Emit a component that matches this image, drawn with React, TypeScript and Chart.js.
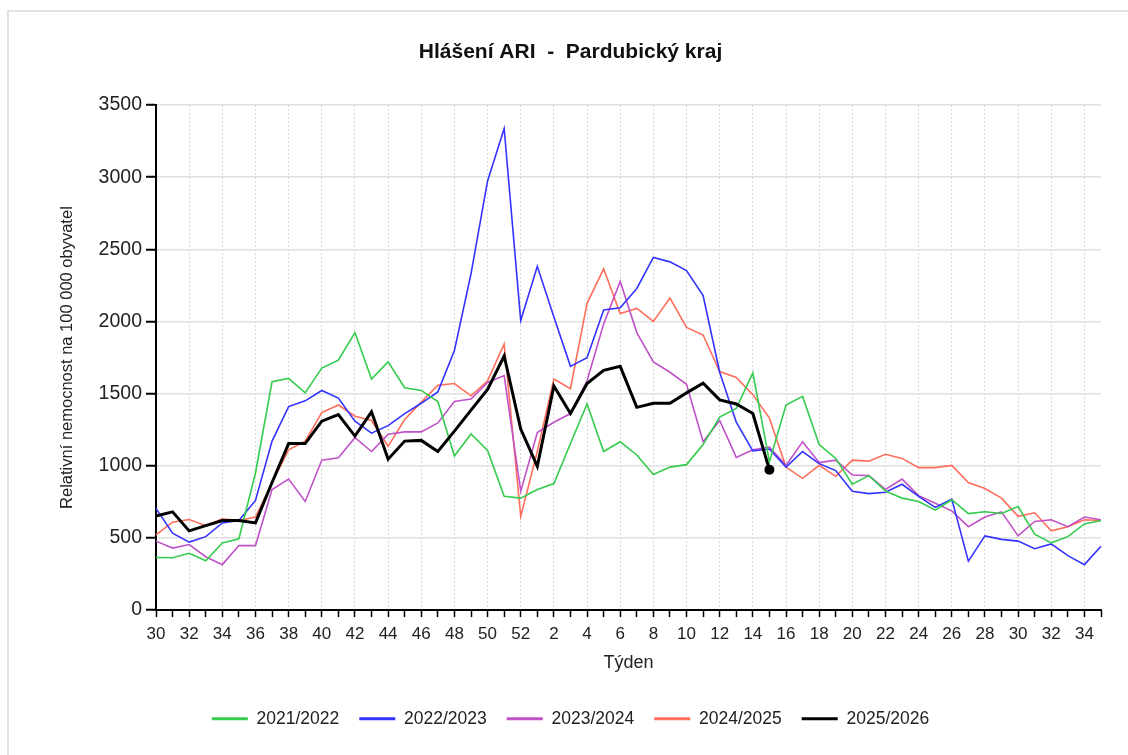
import React, { useEffect, useRef } from "react";
import { Chart, registerables } from "chart.js";

Chart.register(...registerables);

const weeks = [
  30, 31, 32, 33, 34, 35, 36, 37, 38, 39, 40, 41, 42, 43, 44, 45, 46, 47, 48, 49, 50, 51, 52,
  1, 2, 3, 4, 5, 6, 7, 8, 9, 10, 11, 12, 13, 14, 15, 16, 17, 18, 19, 20, 21, 22, 23, 24, 25, 26, 27, 28, 29, 30, 31, 32, 33, 34, 35,
];

const s2021 = [
  365, 363, 394, 342, 466, 494, 950, 1582, 1605, 1505, 1677, 1732, 1923, 1601, 1720, 1541, 1522, 1445, 1068, 1220, 1106, 788, 776,
  836, 877, 1154, 1428, 1099, 1166, 1075, 939, 991, 1008, 1147, 1338, 1397, 1644, 1027, 1421, 1481, 1147, 1051, 872, 932, 824, 776, 753, 693, 765, 669, 681, 669, 717, 526, 466, 509, 597, 621,
];

const s2022 = [
  705, 533, 471, 509, 604, 621, 760, 1171, 1410, 1450, 1522, 1469, 1309, 1226, 1278, 1362, 1433, 1512, 1799, 2330, 2974, 3337, 2007,
  2382, 2031, 1689, 1749, 2079, 2095, 2229, 2444, 2413, 2353, 2179, 1648, 1302, 1104, 1116, 991, 1099, 1015, 967, 824, 807, 817, 872, 788, 712, 769, 339, 514, 490, 478, 425, 459, 377, 315, 442,
];

const s2023 = [
  478, 430, 454, 370, 315, 447, 447, 836, 908, 753, 1039, 1056, 1195, 1099, 1218, 1235, 1235, 1297, 1445, 1462, 1577, 1625, 824,
  1230, 1302, 1362, 1589, 1983, 2277, 1923, 1720, 1648, 1565, 1166, 1314, 1058, 1111, 1130, 1003, 1166, 1022, 1039, 936, 932, 836, 908, 793, 741, 688, 578, 645, 681, 514, 614, 626, 578, 645, 626,
];

const s2024 = [
  521, 609, 628, 585, 633, 621, 645, 884, 1111, 1171, 1369, 1421, 1343, 1314, 1135, 1321, 1441, 1558, 1570, 1485, 1589, 1844, 650,
  1100, 1601, 1534, 2126, 2365, 2055, 2090, 2000, 2162, 1959, 1906, 1653, 1612, 1493, 1330, 991, 913, 1003, 927, 1039, 1032, 1080, 1051, 987, 987, 1003, 884, 843, 776, 650, 674, 549, 578, 626, 621,
];

const s2025 = [
  652, 681, 549, 585, 621, 621, 604, 884, 1154, 1154, 1309, 1355, 1206, 1374, 1046, 1171, 1176, 1099, 1240, 1386, 1529, 1761, 1254,
  996, 1553, 1362, 1570, 1661, 1689, 1405, 1433, 1433, 1505, 1572, 1457, 1428, 1362, 972,
  null, null, null, null, null, null, null, null, null, null, null, null, null, null, null, null, null, null, null, null,
];

const seasonLabels = ["2021/2022", "2022/2023", "2023/2024", "2024/2025", "2025/2026"];
const seasonColors = ["#33cc4d", "#3333ff", "#c052c8", "#ff6e5a", "#000000"];
const yTicks = [0, 500, 1000, 1500, 2000, 2500, 3000, 3500];

const FONT = "'Liberation Sans', Arial, sans-serif";

export default function App() {
  const ref = useRef<HTMLCanvasElement | null>(null);

  useEffect(() => {
    if (!ref.current) return;
    const series = [s2021, s2022, s2023, s2024, s2025];
    const lastBlack = s2025.reduce((acc: number, v, i) => (v !== null ? i : acc), 0);
    const datasets = series.map((data, i) => {
      const isBlack = i === 4;
      return {
        label: seasonLabels[i],
        data,
        borderColor: seasonColors[i],
        backgroundColor: seasonColors[i],
        borderWidth: isBlack ? 3 : 1.6,
        pointRadius: isBlack ? (ctx: any) => (ctx.dataIndex === lastBlack ? 5 : 0) : 0,
        pointHoverRadius: 0,
        pointBackgroundColor: seasonColors[i],
        pointBorderWidth: 0,
        tension: 0,
        spanGaps: false,
        order: isBlack ? 0 : 1,
      };
    });

    const chart = new Chart(ref.current, {
      type: "line",
      data: { labels: weeks.map(String), datasets },
      options: {
        animation: false,
        responsive: false,
        maintainAspectRatio: false,
        layout: { autoPadding: false, padding: { left: 40, right: 27, top: 0, bottom: 17.4 } },
        plugins: {
          title: {
            display: true,
            text: "Hlášení ARI  -  Pardubický kraj",
            color: "#111",
            font: { family: FONT, size: 21, weight: "bold", lineHeight: 1.2 },
            padding: { top: 39.4, bottom: 40.4 },
          },
          legend: {
            display: true,
            position: "bottom",
            labels: {
              boxWidth: 36,
              boxHeight: 3,
              padding: 20,
              color: "#222",
              font: { family: FONT, size: 17.5 },
              sort: (a: any, b: any) => a.datasetIndex - b.datasetIndex,
              generateLabels: (c: any) =>
                Chart.defaults.plugins.legend.labels
                  .generateLabels(c)
                  .map((l: any) => ({ ...l, lineWidth: 0 })),
            },
          },
          tooltip: { enabled: false },
        },
        scales: {
          x: {
            type: "category",
            offset: false,
            afterFit: (scale: any) => {
              scale.height = 80;
            },
            border: { display: true, color: "#000", width: 2, dash: [2, 2] },
            grid: {
              display: true,
              drawOnChartArea: true,
              drawTicks: true,
              tickLength: 7,
              tickWidth: 1.5,
              tickColor: "#000",
              lineWidth: 1,
              color: (ctx: any) =>
                ctx.index !== undefined && weeks[ctx.index] % 2 === 0 ? "#d6d6d6" : "rgba(0,0,0,0)",
            },
            ticks: {
              autoSkip: false,
              maxRotation: 0,
              minRotation: 0,
              padding: 7,
              color: "#222",
              font: { family: FONT, size: 17 },
              callback: (_v: any, i: number) => (weeks[i] % 2 === 0 ? String(weeks[i]) : ""),
            },
            title: {
              display: true,
              text: "Týden",
              color: "#222",
              font: { family: FONT, size: 18, lineHeight: 1.2 },
              padding: { top: 0, bottom: 16 },
            },
          },
          y: {
            min: 0,
            max: 3500,
            afterFit: (scale: any) => {
              scale.width = 116;
            },
            afterBuildTicks: (scale: any) => {
              scale.ticks = yTicks.map((v) => ({ value: v }));
            },
            border: { display: true, color: "#000", width: 2 },
            grid: {
              display: true,
              drawOnChartArea: true,
              drawTicks: true,
              tickLength: 10,
              tickWidth: 2,
              tickColor: "#000",
              color: "#e0e0e0",
              lineWidth: 1.5,
            },
            ticks: {
              padding: 4,
              color: "#222",
              font: { family: FONT, size: 19.5 },
              callback: (v: any) => String(v),
            },
            title: {
              display: true,
              text: "Relativní nemocnost na 100 000 obyvatel",
              color: "#222",
              font: { family: FONT, size: 16.5, lineHeight: 1.2 },
              padding: { top: 18, bottom: 0 },
            },
          },
        },
      },
    });
    return () => chart.destroy();
  }, []);

  return (
    <div style={{ position: "absolute", left: 0, top: 0, width: 1128, height: 755, overflow: "hidden", background: "#fff" }}>
      <div
        style={{
          position: "absolute",
          left: 7,
          top: 10,
          width: 1200,
          height: 800,
          borderTop: "2px solid #e2e2e2",
          borderLeft: "2px solid #e2e2e2",
        }}
      />
      <canvas ref={ref} width={1128} height={755} style={{ position: "absolute", left: 0, top: 0, width: 1128, height: 755 }} />
    </div>
  );
}
